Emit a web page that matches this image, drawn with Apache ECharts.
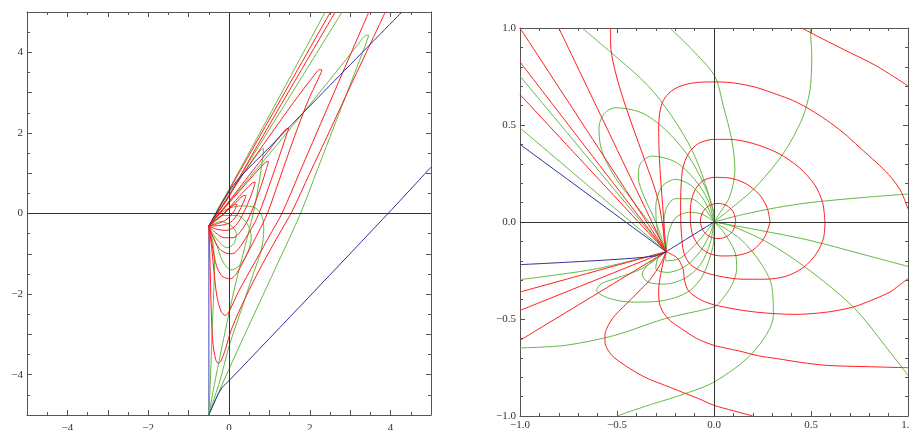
<!DOCTYPE html>
<html>
<head>
<meta charset="utf-8">
<script src="https://cdn.jsdelivr.net/npm/echarts@6/dist/echarts.min.js"></script>
<style>
  html, body { margin: 0; padding: 0; background: #fff; }
  #chart { width: 910px; height: 430px; }
</style>
</head>
<body>
<div id="chart"></div>
<script>
// tick labels
const leftTicks = [-4, -2, 0, 2, 4];
const rightTicks = [-1, -0.5, 0, 0.5, 1];

// ---------- left panel (range -5..5) ----------
const leftCutVertical = [[-0.5, -0.31], [-0.5, -5]];
const leftBlue = [
  [[-0.5, -0.31], [-0.35, -0.05], [-0.15, 0.3], [0.2, 0.82], [1, 1.64], [2.5, 3.18], [4.28, 5]],
  [[-0.5, -5], [-0.3, -4.55], [-0.17, -4.32], [0, -4.15], [2, -2.05], [4.03, 0.1], [5, 1.15]]
];
const leftRed = [
  [[3.87, 5], [3.4, 4], [2.93, 3], [2.47, 2], [2, 1], [1.56, 0.05], [1.23, -0.53], [0.82, -1.27], [0.4, -2.1], [0.074, -2.84], [-0.1, -3.4], [-0.2, -3.66], [-0.26, -3.72], [-0.33, -3.62], [-0.4, -3.2], [-0.44, -2.4], [-0.46, -1.6], [-0.48, -0.9], [-0.5, -0.31]],
  [[3.46, 5], [3.03, 4], [2.6, 3], [2.17, 2], [1.74, 1], [1.31, 0], [1.06, -0.45], [0.65, -1.19], [0.24, -1.93], [0.02, -2.4], [-0.09, -2.53], [-0.2, -2.42], [-0.3, -2.05], [-0.37, -1.45], [-0.42, -0.95], [-0.46, -0.58], [-0.5, -0.31]],
  [[2.51, 5], [1.7, 3.57], [0.9, 2.16], [0.3, 1.1], [-0.1, 0.4], [-0.35, -0.05], [-0.5, -0.31]],
  [[2.63, 5], [1.8, 3.58], [1.0, 2.2], [0.4, 1.15], [0.0, 0.42], [-0.3, -0.02], [-0.5, -0.31]],
  [[-0.5, -0.31], [-0.44, -0.62], [-0.38, -1.0], [-0.28, -1.38], [-0.15, -1.57], [0.03, -1.62], [0.2, -1.47], [0.45, -1.0], [0.72, -0.48], [0.95, 0], [1.25, 0.85], [1.6, 1.85], [1.95, 2.78], [2.2, 3.32], [2.28, 3.5], [2.3, 3.56], [2.25, 3.57], [2.1, 3.42], [1.6, 2.76], [1.0, 1.92], [0.4, 1.06], [0.0, 0.44], [-0.3, -0.02], [-0.5, -0.31]],
  [[-0.5, -0.31], [-0.4, -0.57], [-0.25, -0.86], [-0.08, -0.98], [0.08, -1.0], [0.25, -0.86], [0.45, -0.55], [0.65, -0.2], [0.8, 0.15], [1.05, 0.85], [1.3, 1.58], [1.43, 1.97], [1.48, 2.11], [1.42, 2.1], [1.1, 1.71], [0.6, 1.08], [0.1, 0.43], [-0.25, -0.01], [-0.5, -0.31]],
  [[-0.5, -0.31], [-0.33, -0.48], [-0.12, -0.6], [0.1, -0.6], [0.3, -0.43], [0.47, -0.15], [0.62, 0.2], [0.8, 0.7], [0.93, 1.12], [0.98, 1.29], [0.9, 1.27], [0.5, 0.83], [0.0, 0.26], [-0.5, -0.31]],
  [[-0.5, -0.31], [-0.3, -0.39], [-0.1, -0.42], [0.08, -0.37], [0.24, -0.2], [0.4, 0.1], [0.55, 0.46], [0.63, 0.7], [0.65, 0.78], [0.57, 0.75], [0.25, 0.42], [-0.1, 0.03], [-0.5, -0.31]],
  [[-0.5, -0.31], [-0.25, -0.3], [0.0, -0.24], [0.15, -0.1], [0.3, 0.15], [0.4, 0.38], [0.42, 0.45], [0.35, 0.44], [0.1, 0.2], [-0.2, -0.07], [-0.5, -0.31]],
  [[-0.5, -0.31], [-0.25, -0.24], [-0.05, -0.14], [0.12, 0.05], [0.2, 0.22], [0.14, 0.22], [-0.1, 0.02], [-0.5, -0.31]]
];
const leftGreen = [
  [[2.38, 5], [1.5, 3.36], [0.6, 1.7], [0.0, 0.6], [-0.3, 0.07], [-0.5, -0.31]],
  [[2.8, 5], [1.8, 3.38], [0.9, 1.93], [0.2, 0.8], [-0.2, 0.15], [-0.5, -0.31]],
  [[-0.5, -5], [-0.12, -4.13], [0.3, -3.2], [0.6, -2.55], [1.2, -1.25], [1.77, 0], [2.2, 1.12], [2.6, 2.16], [3.0, 3.2], [3.3, 3.98], [3.43, 4.33], [3.46, 4.42], [3.4, 4.42], [3.2, 4.2], [2.8, 3.7], [2.0, 2.7], [1.2, 1.72], [0.4, 0.76], [-0.1, 0.17], [-0.5, -0.31]],
  [[-0.5, -5], [-0.34, -4.13], [-0.1, -2.95], [0.15, -1.8], [0.4, -0.8], [0.6, 0], [0.75, 0.8], [0.83, 1.35], [0.86, 1.61], [0.79, 1.58], [0.4, 1.05], [0.0, 0.45], [-0.3, 0.0], [-0.5, -0.31]],
  [[-0.5, -0.31], [-0.1, 0.08], [0.3, 0.19], [0.65, 0.14], [0.82, -0.08], [0.86, -0.4], [0.8, -0.9], [0.6, -1.5], [0.3, -2.4], [0.0, -3.3], [-0.22, -4.13], [-0.5, -5]],
  [[-0.5, -0.31], [-0.15, -0.05], [0.2, -0.05], [0.45, -0.25], [0.55, -0.6], [0.45, -1.0], [0.25, -1.3], [0.05, -1.4], [-0.15, -1.2], [-0.3, -0.8], [-0.43, -0.5], [-0.5, -0.31]],
  [[-0.5, -0.31], [-0.2, -0.2], [0.05, -0.3], [0.18, -0.5], [0.12, -0.75], [-0.05, -0.85], [-0.25, -0.7], [-0.4, -0.5], [-0.5, -0.31]],
  [[-0.5, -5], [-0.46, -4.13], [-0.42, -3.0], [-0.38, -2.0], [-0.36, -1.2], [-0.4, -0.7], [-0.5, -0.31]]
];

// ---------- right panel (range -1..1) ----------
const rightBlue = [
  [[-1, 0.4], [-0.247, -0.153]],
  [[-1, -0.22], [-0.75, -0.207], [-0.51, -0.193], [-0.304, -0.175], [-0.247, -0.153]],
  [[-0.247, -0.153], [0, 0]]
];
const rightRed = [
  [[0.112, 0.005], [0.1, 0.051], [0.067, 0.084], [0.021, 0.096], [-0.025, 0.084], [-0.058, 0.051], [-0.07, 0.005], [-0.058, -0.041], [-0.025, -0.074], [0.021, -0.086], [0.067, -0.074], [0.1, -0.041], [0.112, 0.005]],
  [[0.289, 0], [0.275, 0.07], [0.235, 0.14], [0.16, 0.2], [0.07, 0.228], [0, 0.23], [-0.06, 0.21], [-0.1, 0.16], [-0.12, 0.09], [-0.122, 0.02], [-0.112, -0.06], [-0.08, -0.12], [-0.03, -0.16], [0.04, -0.175], [0.12, -0.172], [0.2, -0.145], [0.26, -0.08], [0.289, 0]],
  [[0.572, 0], [0.56, 0.1], [0.52, 0.19], [0.44, 0.28], [0.33, 0.355], [0.2, 0.405], [0.08, 0.426], [0, 0.426], [-0.08, 0.405], [-0.13, 0.355], [-0.16, 0.28], [-0.17, 0.18], [-0.172, 0.06], [-0.168, -0.06], [-0.155, -0.16], [-0.12, -0.22], [-0.06, -0.255], [0.03, -0.28], [0.15, -0.295], [0.26, -0.295], [0.37, -0.28], [0.46, -0.235], [0.53, -0.16], [0.565, -0.08], [0.572, 0]],
  [[1, 0.067], [0.96, 0.165], [0.9, 0.245], [0.838, 0.306], [0.75, 0.385], [0.667, 0.46], [0.58, 0.525], [0.495, 0.58], [0.41, 0.625], [0.323, 0.658], [0.23, 0.69], [0.151, 0.709], [0.07, 0.72], [0, 0.722], [-0.08, 0.72], [-0.16, 0.705], [-0.22, 0.675], [-0.262, 0.625], [-0.28, 0.56], [-0.285, 0.48], [-0.284, 0.4], [-0.28, 0.3], [-0.272, 0.18], [-0.262, 0.05], [-0.255, -0.05], [-0.247, -0.153]],
  [[1, -0.292], [0.95, -0.33], [0.907, -0.361], [0.82, -0.4], [0.718, -0.438], [0.6, -0.462], [0.495, -0.473], [0.41, -0.476], [0.323, -0.473], [0.23, -0.466], [0.151, -0.456], [0.06, -0.44], [-0.02, -0.421], [-0.08, -0.395], [-0.132, -0.354], [-0.152, -0.3], [-0.16, -0.24], [-0.19, -0.185], [-0.247, -0.153]],
  [[1, -0.751], [0.8, -0.746], [0.581, -0.739], [0.45, -0.724], [0.323, -0.704], [0.23, -0.69], [0.151, -0.67], [0.07, -0.652], [0, -0.636], [-0.09, -0.6], [-0.167, -0.55], [-0.23, -0.505], [-0.265, -0.46], [-0.283, -0.41], [-0.285, -0.35], [-0.275, -0.27], [-0.26, -0.2], [-0.247, -0.153]],
  [[0.2, -1], [0.1, -0.973], [0, -0.945], [-0.08, -0.91], [-0.167, -0.876], [-0.25, -0.843], [-0.339, -0.808], [-0.4, -0.776], [-0.459, -0.739], [-0.5, -0.71], [-0.527, -0.687], [-0.55, -0.655], [-0.562, -0.618], [-0.562, -0.58], [-0.553, -0.55], [-0.535, -0.515], [-0.51, -0.481], [-0.47, -0.44], [-0.424, -0.395], [-0.38, -0.35], [-0.339, -0.309], [-0.3, -0.255], [-0.27, -0.206], [-0.247, -0.153]],
  [[-0.533, 1], [-0.533, 0.918], [-0.514, 0.797], [-0.476, 0.66], [-0.424, 0.505], [-0.356, 0.316], [-0.287, 0.11], [-0.247, -0.153]],
  [[-1, 1], [-0.247, -0.153]],
  [[-0.8, 1], [-0.247, -0.153]],
  [[-1, 0.825], [-0.247, -0.153]],
  [[-1, 0.657], [-0.247, -0.153]],
  [[-1, -0.361], [-0.247, -0.153]],
  [[-1, -0.456], [-0.247, -0.153]],
  [[-1, -0.61], [-0.247, -0.153]],
  [[0.452, 1], [0.56, 0.944], [0.667, 0.89], [0.838, 0.804], [1, 0.701]]
];
const rightGreen = [
  [[-0.68, 1], [-0.51, 0.856], [-0.338, 0.701], [-0.218, 0.546], [-0.115, 0.374], [-0.046, 0.2], [-0.003, 0.048], [0, 0]],
  [[-0.227, 1], [-0.098, 0.873], [0.005, 0.75], [0.048, 0.598], [0.091, 0.426], [0.108, 0.271], [0.082, 0.134], [0.031, 0.048], [0, 0]],
  [[0.495, 1], [0.504, 0.856], [0.495, 0.683], [0.46, 0.546], [0.392, 0.409], [0.323, 0.306], [0.203, 0.168], [0.082, 0.065], [0, 0]],
  [[1, 0.144], [0.753, 0.125], [0.495, 0.1], [0.323, 0.074], [0.151, 0.039], [0, 0]],
  [[1, -0.229], [0.753, -0.163], [0.495, -0.095], [0.237, -0.043], [0, 0]],
  [[1, -0.79], [0.907, -0.67], [0.718, -0.438], [0.469, -0.232], [0.272, -0.103], [0.082, -0.017], [0, 0]],
  [[-0.5, -1], [-0.339, -0.945], [-0.201, -0.902], [0, -0.825], [0.203, -0.67], [0.306, -0.481], [0.297, -0.327], [0.237, -0.206], [0.134, -0.086], [0, 0]],
  [[-1, -0.649], [-0.768, -0.636], [-0.51, -0.584], [-0.253, -0.498], [0, -0.438], [0.031, -0.412], [0.091, -0.327], [0.117, -0.241], [0.108, -0.155], [0.048, -0.05], [0, 0]],
  [[-0.247, -0.153], [-0.371, -0.24], [-0.51, -0.292], [-0.58, -0.318], [-0.605, -0.352], [-0.545, -0.392], [-0.424, -0.413], [-0.3, -0.41], [-0.2, -0.39], [-0.12, -0.35], [-0.06, -0.28], [-0.02, -0.18], [0, -0.08], [0, 0]],
  [[-0.247, -0.153], [-0.33, -0.21], [-0.37, -0.27], [-0.34, -0.31], [-0.25, -0.32], [-0.15, -0.29], [-0.07, -0.22], [-0.02, -0.11], [0, 0]],
  [[-0.247, -0.153], [-0.29, -0.19], [-0.3, -0.24], [-0.24, -0.26], [-0.15, -0.23], [-0.07, -0.15], [-0.02, -0.06], [0, 0]],
  [[-0.247, -0.153], [-0.25, -0.2], [-0.18, -0.19], [-0.1, -0.12], [-0.04, -0.05], [0, 0]],
  [[-0.247, -0.153], [-0.304, -0.045], [-0.407, 0.093], [-0.51, 0.23], [-0.579, 0.368], [-0.593, 0.488], [-0.565, 0.56], [-0.51, 0.589], [-0.372, 0.563], [-0.253, 0.478], [-0.132, 0.34], [-0.05, 0.19], [-0.005, 0.065], [0, 0]],
  [[-0.247, -0.153], [-0.3, 0], [-0.36, 0.13], [-0.39, 0.23], [-0.38, 0.3], [-0.32, 0.34], [-0.2, 0.31], [-0.1, 0.22], [-0.03, 0.11], [0, 0]],
  [[-0.247, -0.153], [-0.29, -0.05], [-0.3, 0.08], [-0.27, 0.18], [-0.2, 0.22], [-0.12, 0.19], [-0.05, 0.11], [0, 0]],
  [[-0.247, -0.153], [-0.26, -0.06], [-0.25, 0.06], [-0.2, 0.12], [-0.12, 0.12], [-0.05, 0.07], [0, 0]],
  [[-0.247, -0.153], [-0.235, -0.06], [-0.2, 0.02], [-0.13, 0.05], [-0.06, 0.04], [0, 0]],
  [[-1, 0.752], [-0.247, -0.153]],
  [[-1, 0.485], [-0.247, -0.153]],
  [[-1, -0.297], [-0.6, -0.24], [-0.247, -0.153]]
];

const RED = '#ff1f1f', GREEN = '#66b844', BLUE = '#2f2f99', LIGHTBLUE = '#8a8ad8';
const FONT = 'Liberation Serif';

function curves(list, color, gridIdx, width) {
  return list.map(pts => ({
    type: 'line',
    xAxisIndex: gridIdx * 2,
    yAxisIndex: gridIdx * 2,
    data: pts,
    smooth: 0.3,
    showSymbol: false,
    silent: true,
    clip: true,
    lineStyle: { color: color, width: width || 1 }
  }));
}

function fmt(v, list, digits) {
  if (!list.some(t => Math.abs(t - v) < 1e-9)) return '';
  const s = digits ? Math.abs(v).toFixed(digits) : String(Math.abs(v));
  return v < 0 ? '\u2212' + s : s;
}

function axisPair(gridIdx, min, max, interval, split, ticks, digits, isX, margin) {
  const common = {
    type: 'value', gridIndex: gridIdx, min: min, max: max, interval: interval,
    axisLine: { show: true, onZero: false, lineStyle: { color: '#555', width: 1 } },
    axisTick: { show: true, inside: true, length: 5, lineStyle: { color: '#555' } },
    minorTick: { show: true, splitNumber: split, length: 3, lineStyle: { color: '#555' } },
    splitLine: { show: false }
  };
  const main = Object.assign({}, common, {
    position: isX ? 'bottom' : 'left',
    axisLabel: {
      show: true, margin: margin, color: '#333', fontFamily: FONT, fontSize: 11,
      formatter: v => fmt(v, ticks, digits), showMinLabel: true, showMaxLabel: true,
      hideOverlap: false
    }
  });
  const other = Object.assign({}, common, {
    position: isX ? 'top' : 'right',
    axisLabel: { show: false }
  });
  return [main, other];
}

const series = [].concat(
  curves([leftCutVertical], LIGHTBLUE, 0, 1.6),
  curves(leftGreen, GREEN, 0),
  curves(leftRed, RED, 0),
  curves(leftBlue, BLUE, 0),
  curves(rightGreen, GREEN, 1),
  curves(rightRed, RED, 1),
  curves(rightBlue, BLUE, 1)
);

// origin axis lines drawn through the library's scales
const originLines = {
  silent: true, symbol: 'none', label: { show: false },
  lineStyle: { color: '#333', width: 1, type: 'solid' },
  data: [{ xAxis: 0 }, { yAxis: 0 }]
};
series[0].markLine = originLines;
series[series.findIndex(s => s.xAxisIndex === 2)].markLine = originLines;

const chart = echarts.init(document.getElementById('chart'), null, { renderer: 'canvas' });
chart.setOption({
  animation: false,
  backgroundColor: '#fff',
  grid: [
    { left: 27, top: 12, width: 404, height: 403, containLabel: false, outerBoundsMode: 'none' },
    { left: 520, top: 28, width: 388, height: 388, containLabel: false, outerBoundsMode: 'none' }
  ],
  xAxis: [].concat(
    axisPair(0, -5, 5, 1, 2, leftTicks, 0, true, 8),
    axisPair(1, -1, 1, 0.5, 5, rightTicks, 1, true, 4)
  ),
  yAxis: [].concat(
    axisPair(0, -5, 5, 1, 2, leftTicks, 0, false, 4),
    axisPair(1, -1, 1, 0.5, 5, rightTicks, 1, false, 4)
  ),
  series: series
});
</script>
</body>
</html>
